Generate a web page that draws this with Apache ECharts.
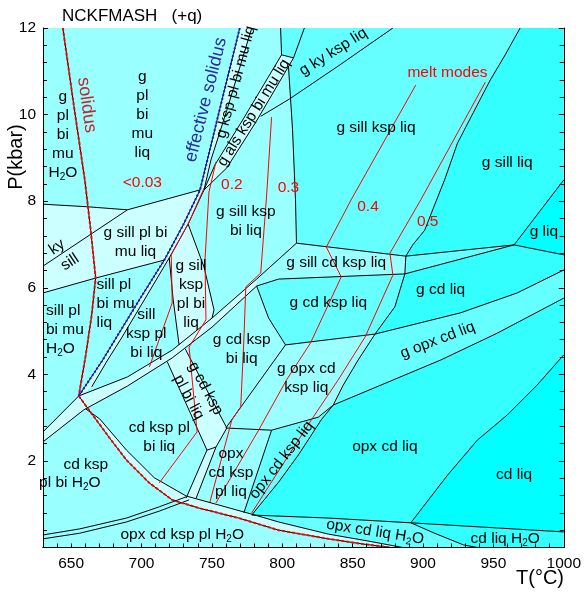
<!DOCTYPE html>
<html>
<head>
<meta charset="utf-8">
<script src="https://cdn.jsdelivr.net/npm/echarts@6/dist/echarts.min.js"></script>
<style>
  html, body { margin: 0; padding: 0; background: #fff; }
  #chart { width: 584px; height: 593px; }
</style>
</head>
<body>
<div id="chart"></div>
<script>
// --- phase boundaries, [T (°C), P (kbar)] ---
const solidus = [[644.1,12],[651.9,10.21],[659.7,8.49],[663.9,7.33],[667.4,6.23],[664.6,5.37],[660.4,4.45],[655.4,3.50]];
const effSolidus = [[769.8,12],[755.7,10.14],[741.6,8.26],[729.6,7.45],[716.2,6.64],[699.2,5.76],[682.3,4.86],[672.4,4.33],[655.4,3.50]];
const wetSolidus = [[655.4,3.50],[665.3,3.06],[677.3,2.53],[689.3,2.02],[705.6,1.49],[721.8,1.10],[740.9,0.91],[769.1,0.68],[797.4,0.40],[832.7,0.20],[857.4,0.08],[877.2,0]];
const wetUpper = [[660.4,3.20],[670.3,2.97],[689.3,2.25],[709.1,1.61],[731.7,1.19],[755.0,0.98],[778.3,0.77],[797.4,0.59],[832.7,0.31],[860.9,0.15],[885.6,0]];
const muOut = [[744.4,8.26],[733.1,7.47],[719.7,6.69],[702.7,5.76],[685.8,4.84],[675.9,4.33],[664.6,3.71]];
const plOutTop = [[778.3,12],[760.6,10.10],[749.3,8.95],[744.4,8.26]];
const alsBandA = [[798.8,12],[799.5,11.38],[772.7,9.92],[752.2,8.84],[744.4,8.26]];
const alsBandB = [[815.7,12],[808.0,11.31],[781.1,9.82],[760.6,8.77],[744.4,8.26]];
const alsCap = [[799.5,11.38],[808.0,11.31]];
const kySillHigh = [[878.6,12],[839.7,11.12],[805.1,10.36],[784.7,9.96]];
const biOutHigh = [[804.4,11.12],[807.3,9.65],[809.4,8.03],[810.1,7.03]];
const kspOutHigh = [[969.0,12],[958.4,11.38],[947.8,10.80],[935.8,10.05],[924.5,9.34],[915.3,8.49],[908.2,7.91],[901.2,7.33],[892.7,6.99],[887.8,6.73]];
const cdInTop = [[810.1,7.03],[887.8,6.73],[964.7,6.99]];
const wedgeEdge = [[887.8,6.73],[887.1,6.32]];
const gLiqUp = [[964.7,6.99],[1000,8.49]];
const gLiqLow = [[964.7,6.99],[1000,6.76]];
const sillIn = [[630,7.93],[661.8,7.87],[690.0,7.80],[741.6,8.26]];
const gOut = [[630,5.88],[668.1,6.23],[716.2,6.64]];
const kySillLow = [[630,6.50],[690.0,7.80]];
const cdLeft = [[630,2.67],[655.4,3.50]];
const cdBandU = [[655.4,3.50],[690.0,3.94],[721.8,4.56],[750.1,5.30],[781.8,6.20],[810.1,7.03]];
const cdBandD = [[630,2.44],[659.0,3.18],[690.0,3.73],[721.8,4.38],[750.1,5.09],[781.8,6.04],[797.4,6.20],[887.1,6.32],[964.7,6.99]];
const gsksRight = [[733.1,7.47],[744.4,6.48],[751.5,5.49],[750.1,5.30]];
const gsksLeft = [[719.7,6.69],[722.5,5.72],[726.7,4.68]];
const biOutMid = [[781.8,6.04],[790.3,5.30],[802.3,4.68],[759.9,2.76]];
const opxInHigh = [[802.3,4.68],[865.9,4.93],[926.6,5.42],[966.9,5.88],[1000,6.41]];
const kspOutLow = [[887.1,6.32],[880.0,5.56],[865.9,4.93],[853.9,4.33],[843.3,3.75],[836.2,3.29],[827.7,2.95],[811.5,2.14],[797.4,1.51],[778.3,0.75]];
const gOutLow = [[759.9,2.76],[792.4,2.71],[825.6,3.01],[836.2,3.29],[912.5,4.33],[952.7,4.95],[1000,5.76]];
const opxOut = [[1000,4.45],[981.0,3.75],[959.8,3.06],[938.6,2.48],[917.4,1.67],[891.3,0.57]];
const h2oIn = [[778.3,0.75],[832.7,0.68],[891.3,0.57],[1000,0.36]];
const h2oCurve = [[891.3,0.57],[908.2,0.33],[928.7,0.06],[938.6,0]];
const opxWedgeLeft = [[792.4,2.71],[772.7,0.80]];
const plBandLeft = [[718.3,4.29],[746.5,2.25]];
const plBandRight = [[731.0,4.59],[760.6,2.76]];
const opxBandLeft = [[746.5,2.25],[731.7,1.14]];
const opxBandRight = [[760.6,2.76],[752.9,2.32],[738.8,1.14]];
const opxBandTop = [[752.9,2.32],[746.5,2.25]];
const biOutLowA = [[630,0.29],[656.1,0.43],[689.3,0.68],[712.6,0.94],[731.7,1.17]];
const biOutLowB = [[630,0.20],[656.1,0.33],[689.3,0.59],[712.6,0.84],[733.8,1.10]];

// --- melt mode contours ---
const melt01 = [[744.4,8.30],[733.8,7.52],[721.1,6.76],[721.8,5.65],[705.6,4.17]];
const melt02 = [[752.9,8.91],[747.9,8.21],[745.1,6.64],[745.8,5.26],[733.8,4.63],[739.5,2.67],[712.6,1.49]];
const melt03 = [[792.4,9.94],[788.9,8.14],[784.7,6.34],[774.1,6.02],[772.7,4.79],[770.5,3.25],[764.2,2.95],[748.6,1.05]];
const melt04 = [[894.8,10.68],[848.9,8.03],[831.3,6.94],[841.9,6.25],[820.0,4.72],[803.0,3.87],[783.2,2.71],[752.9,1.03]];
const melt05 = [[944.3,10.75],[898.4,8.03],[876.5,6.80],[878.6,6.29],[858.8,4.86],[839.7,3.87],[820.7,2.95],[778.3,0.80]];

// --- fields (polygons) and number of phases ---
const fKsp = [[798.8,12],[969.0,12],[958.4,11.38],[947.8,10.80],[935.8,10.05],[924.5,9.34],[915.3,8.49],[908.2,7.91],[901.2,7.33],[892.7,6.99],[887.8,6.73],[810.1,7.03],[809.4,8.03],[807.3,9.65],[804.4,11.12],[808.0,11.31],[799.5,11.38]];
const fGSillLiq = [[969.0,12],[1000,12],[1000,8.49],[964.7,6.99],[887.8,6.73],[892.7,6.99],[901.2,7.33],[908.2,7.91],[915.3,8.49],[924.5,9.34],[935.8,10.05],[947.8,10.80],[958.4,11.38]];
const fGLiq = [[964.7,6.99],[1000,8.49],[1000,6.76]];
const fCdInBand = [[630,2.67],[655.4,3.50],[690.0,3.94],[721.8,4.56],[750.1,5.30],[781.8,6.20],[781.8,6.04],[750.1,5.09],[721.8,4.38],[690.0,3.73],[659.0,3.18],[630,2.44]];
const fGSillCdLiq = [[887.8,6.73],[964.7,6.99],[887.1,6.32]];
const fGCdKspLiq = [[797.4,6.20],[887.1,6.32],[880.0,5.56],[865.9,4.93],[802.3,4.68],[790.3,5.30],[781.8,6.04]];
const fGCdLiq = [[887.1,6.32],[964.7,6.99],[1000,6.76],[1000,6.41],[966.9,5.88],[926.6,5.42],[865.9,4.93],[880.0,5.56]];
const fGOpxCdLiq = [[865.9,4.93],[926.6,5.42],[966.9,5.88],[1000,6.41],[1000,5.76],[952.7,4.95],[912.5,4.33],[836.2,3.29],[843.3,3.75],[853.9,4.33]];
const fOpxCdLiq = [[836.2,3.29],[912.5,4.33],[952.7,4.95],[1000,5.76],[1000,4.45],[981.0,3.75],[959.8,3.06],[938.6,2.48],[917.4,1.67],[891.3,0.57],[832.7,0.68],[778.3,0.75],[797.4,1.51],[811.5,2.14],[827.7,2.95]];
const fCdLiq = [[1000,4.45],[981.0,3.75],[959.8,3.06],[938.6,2.48],[917.4,1.67],[891.3,0.57],[1000,0.36]];
const fCdLiqH2O = [[891.3,0.57],[1000,0.36],[1000,0],[938.6,0],[928.7,0.06],[908.2,0.33]];
const fOpxCdLiqH2O = [[778.3,0.75],[832.7,0.68],[891.3,0.57],[908.2,0.33],[928.7,0.06],[938.6,0],[885.6,0],[860.9,0.15],[832.7,0.31],[797.4,0.59],[778.3,0.77]];
const fOpxCdKspLiq = [[792.4,2.71],[825.6,3.01],[836.2,3.29],[827.7,2.95],[811.5,2.14],[797.4,1.51],[778.3,0.75],[772.7,0.80]];
const fWetBand = [[655.4,3.50],[665.3,3.06],[677.3,2.53],[689.3,2.02],[705.6,1.49],[721.8,1.10],[740.9,0.91],[769.1,0.68],[797.4,0.40],[832.7,0.20],[857.4,0.08],[877.2,0],[885.6,0],[860.9,0.15],[832.7,0.31],[797.4,0.59],[778.3,0.77],[755.0,0.98],[731.7,1.19],[709.1,1.61],[689.3,2.25],[670.3,2.97],[660.4,3.20]];
const fGSillPlBiMu = [[630,7.93],[661.8,7.87],[690.0,7.80],[741.6,8.26],[729.6,7.45],[716.2,6.64],[668.1,6.23],[630,5.88]];
const fGKspPlBiMuLiq = [[769.8,12],[755.7,10.14],[741.6,8.26],[744.4,8.26],[749.3,8.95],[760.6,10.10],[778.3,12]];
const fGAlsKspBiMuLiq = [[799.5,11.38],[772.7,9.92],[752.2,8.84],[744.4,8.26],[760.6,8.77],[781.1,9.82],[808.0,11.31]];
const fSillKspPlBiMuLiq = [[741.6,8.26],[729.6,7.45],[716.2,6.64],[699.2,5.76],[682.3,4.86],[672.4,4.33],[655.4,3.50],[664.6,3.71],[675.9,4.33],[685.8,4.84],[702.7,5.76],[719.7,6.69],[733.1,7.47],[744.4,8.26]];
const fGSillKspPlBiLiq = [[733.1,7.47],[744.4,6.48],[751.5,5.49],[750.1,5.30],[726.7,4.68],[722.5,5.72],[719.7,6.69]];
const fGCdKspPlBiLiq = [[718.3,4.29],[731.0,4.59],[760.6,2.76],[752.9,2.32],[746.5,2.25]];
const fOpxBand = [[746.5,2.25],[752.9,2.32],[738.8,1.14],[731.7,1.14]];

const fields = [
  [fKsp, 4], [fGSillLiq, 3], [fGLiq, 2], [fCdInBand, 6], [fGSillCdLiq, 4],
  [fGCdKspLiq, 4], [fGCdLiq, 3], [fGOpxCdLiq, 4], [fOpxCdLiq, 3], [fCdLiq, 2],
  [fCdLiqH2O, 3], [fOpxCdLiqH2O, 4], [fOpxCdKspLiq, 4], [fWetBand, 6],
  [fGSillPlBiMu, 6], [fGKspPlBiMuLiq, 6], [fGAlsKspBiMuLiq, 6],
  [fSillKspPlBiMuLiq, 6], [fGSillKspPlBiLiq, 6], [fGCdKspPlBiLiq, 6], [fOpxBand, 6]
];

const boundaries = [solidus, effSolidus, wetSolidus, wetUpper, muOut, plOutTop, alsBandA, alsBandB, alsCap,
  kySillHigh, biOutHigh, kspOutHigh, cdInTop, wedgeEdge, gLiqUp, gLiqLow, sillIn, gOut, kySillLow, cdLeft,
  cdBandU, cdBandD, gsksRight, gsksLeft, biOutMid, opxInHigh, kspOutLow, gOutLow, opxOut, h2oIn, h2oCurve,
  opxWedgeLeft, plBandLeft, plBandRight, opxBandLeft, opxBandRight, opxBandTop, biOutLowA, biOutLowB];

const meltLines = [melt01, melt02, melt03, melt04, melt05];

// --- labels: text, T, P ---
const fieldLabels = [
  ['g\npl\nbi\nmu\nH2O', 644.1, 9.54],
  ['g\npl\nbi\nmu\nliq', 700.6, 9.99],
  ['g sill ksp liq', 866.6, 9.69],
  ['g sill liq', 959.8, 8.88],
  ['g ky ksp liq', 836.2, 11.45],
  ['g liq', 985.9, 7.29],
  ['g sill ksp\nbi liq', 774.1, 7.54],
  ['g sill pl bi\nmu liq', 695.7, 7.06],
  ['ky', 639.9, 6.94],
  ['sill', 649.1, 6.59],
  ['sill pl\nbi mu\nliq', 668.1, 5.64],
  ['sill pl\nbi mu\nH2O', 632.1, 5.02],
  ['sill\nksp pl\nbi liq', 703.4, 4.93],
  ['g sill\nksp\npl bi\nliq', 735.2, 5.86],
  ['g sill cd ksp liq', 838.3, 6.57],
  ['g cd liq', 912.5, 5.95],
  ['g cd ksp liq', 832.7, 5.65],
  ['g opx cd liq', 910.4, 4.79],
  ['g cd ksp\nbi liq', 771.2, 4.59],
  ['g opx cd\nksp liq', 817.1, 3.92],
  ['g cd ksp\npl bi liq', 739.5, 3.57],
  ['cd ksp pl\nbi liq', 712.6, 2.55],
  ['cd ksp', 660.4, 1.91],
  ['pl bi H2O', 649.1, 1.49],
  ['opx\ncd ksp\npl liq', 763.5, 1.72],
  ['opx cd ksp liq', 799.5, 2.02],
  ['opx cd liq', 872.9, 2.32],
  ['cd liq', 964.7, 1.67],
  ['opx cd liq H2O', 865.9, 0.36],
  ['cd liq H2O', 958.4, 0.20],
  ['opx cd ksp pl H2O', 728.9, 0.29],
  ['g ksp pl bi mu liq', 767.0, 10.75],
  ['g als ksp bi mu liq', 779.7, 10.04]
];
const meltLabels = [
  ['<0.03', 700.6, 8.42], ['0.2', 764.2, 8.37], ['0.3', 804.4, 8.30],
  ['0.4', 860.9, 7.87], ['0.5', 903.3, 7.52], ['melt modes', 917.4, 10.96]
];
const curveLabels = [['solidus', 661.1, 10.22], ['effective solidus', 745.8, 10.34]];

// --- styling ---
const FONT = 'Liberation Sans, Arial, Helvetica, sans-serif';
const shade = { 2: '#00ffff', 3: '#33ffff', 4: '#66ffff', 5: '#99ffff', 6: '#ccffff' };
const rotations = {
  'g ky ksp liq': 32, 'ky': 34, 'sill': 34, 'g opx cd liq': 21, 'opx cd liq H2O': -9,
  'opx cd ksp liq': 52, 'g cd ksp\npl bi liq': -62, 'g ksp pl bi mu liq': 75,
  'g als ksp bi mu liq': 58, 'solidus': -82, 'effective solidus': 76
};
const leftAligned = { 'sill pl\nbi mu\nliq': true, 'sill pl\nbi mu\nH2O': true };
const curveColors = { 'solidus': '#c0282d', 'effective solidus': '#2a2aa0' };

function richText(t) { return t.replace(/H2O/g, 'H{s|2}O'); }

function polyRender(params, api) {
  const f = fields[params.dataIndex];
  return {
    type: 'polygon',
    shape: { points: f[0].map(p => api.coord(p)) },
    style: { fill: shade[f[1]], stroke: null }
  };
}

function lineRender(list, stroke, width, dash) {
  return function (params, api) {
    return {
      type: 'polyline',
      shape: { points: list[params.dataIndex].map(p => api.coord(p)) },
      style: { stroke: stroke, lineWidth: width, fill: null, lineDash: dash || null }
    };
  };
}

function textRender(list, color, size) {
  return function (params, api) {
    const l = list[params.dataIndex];
    const pt = api.coord([l[1], l[2]]);
    const rot = (rotations[l[0]] || 0) * Math.PI / 180;
    return {
      type: 'text', x: pt[0], y: pt[1], rotation: rot,
      style: {
        text: richText(l[0]),
        fill: typeof color === 'function' ? color(l[0]) : color,
        fontSize: size, fontFamily: FONT, lineHeight: 19,
        align: leftAligned[l[0]] ? 'left' : 'center', verticalAlign: 'middle',
        rich: { s: { fontSize: 10, lineHeight: 10, verticalAlign: 'bottom', fontFamily: FONT, fill: '#000' } }
      }
    };
  };
}

const chart = echarts.init(document.getElementById('chart'));

const axisCommon = {
  type: 'value',
  axisLine: { show: true, lineStyle: { color: '#000', width: 1 } },
  splitLine: { show: false },
  z: 10
};

chart.setOption({
  animation: false,
  title: {
    text: 'NCKFMASH   (+q)', left: 57, top: 3,
    textStyle: { fontSize: 17, fontWeight: 'normal', color: '#000', fontFamily: FONT }
  },
  grid: { left: 43, right: 17, top: 28, bottom: 45.5, show: true, backgroundColor: shade[5], borderWidth: 0 },
  xAxis: [
    Object.assign({}, axisCommon, {
      min: 630, max: 1000, interval: 10, position: 'bottom',
      axisTick: { inside: true, length: 4, lineStyle: { color: '#000' } },
      axisLabel: {
        formatter: v => (v % 50 === 0 ? String(v) : ''), color: '#000',
        fontSize: 15.5, fontFamily: FONT, margin: 8, showMinLabel: true, showMaxLabel: true
      }
    }),
    Object.assign({}, axisCommon, {
      min: 630, max: 1000, position: 'top',
      axisTick: { show: false }, axisLabel: { show: false }
    })
  ],
  yAxis: [
    Object.assign({}, axisCommon, {
      min: 0, max: 12, interval: 2, position: 'left',
      axisTick: { inside: true, length: 5, lineStyle: { color: '#000' } },
      minorTick: { show: true, splitNumber: 5, length: 4, lineStyle: { color: '#000' } },
      axisLabel: { formatter: v => (v === 0 ? '' : String(v)), color: '#000', fontSize: 15.5, fontFamily: FONT, margin: 7 }
    }),
    Object.assign({}, axisCommon, {
      min: 0, max: 12, interval: 2, position: 'right',
      axisTick: { inside: true, length: 5, lineStyle: { color: '#000' } },
      minorTick: { show: true, splitNumber: 5, length: 4, lineStyle: { color: '#000' } },
      axisLabel: { show: false }
    })
  ],
  graphic: [
    { type: 'text', x: 16, y: 157, rotation: Math.PI / 2,
      style: { text: 'P(kbar)', fontSize: 20, fontFamily: FONT, fill: '#000', align: 'center', verticalAlign: 'middle' } },
    { type: 'text', x: 540, y: 578,
      style: { text: 'T(°C)', fontSize: 20, fontFamily: FONT, fill: '#000', align: 'center', verticalAlign: 'middle' } }
  ],
  series: [
    { type: 'custom', z: 1, clip: true, renderItem: polyRender, data: fields.map(f => f[0][0]) },
    { type: 'custom', z: 2, clip: true, renderItem: lineRender(boundaries, '#000', 1), data: boundaries.map(l => l[0]) },
    { type: 'custom', z: 3, clip: true, renderItem: lineRender(meltLines, '#ff0000', 1), data: meltLines.map(l => l[0]) },
    { type: 'custom', z: 4, clip: true, renderItem: lineRender([solidus, wetSolidus], '#ff0000', 2, [3, 2]), data: [solidus[0], wetSolidus[0]] },
    { type: 'custom', z: 4, clip: true, renderItem: lineRender([effSolidus], '#1a1ad0', 2, [2, 2]), data: [effSolidus[0]] },
    { type: 'custom', z: 5, renderItem: textRender(fieldLabels, '#000', 15.5), data: fieldLabels.map(l => [l[1], l[2]]) },
    { type: 'custom', z: 5, renderItem: textRender(meltLabels, '#ff0000', 15.5), data: meltLabels.map(l => [l[1], l[2]]) },
    { type: 'custom', z: 5, renderItem: textRender(curveLabels, t => curveColors[t], 18), data: curveLabels.map(l => [l[1], l[2]]) }
  ]
});
</script>
</body>
</html>
